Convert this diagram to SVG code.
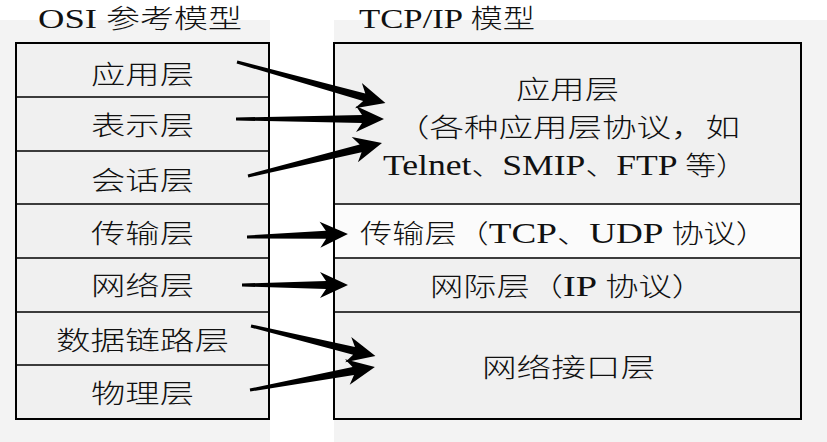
<svg xmlns="http://www.w3.org/2000/svg" width="827" height="442" viewBox="0 0 827 442">
<style>
.t{font-family:"Liberation Serif","Noto Sans CJK SC",serif;font-size:26px;fill:#111;font-weight:300}
.l{font-size:30px;font-weight:400}
.lt{font-size:28px;font-weight:400}
.box{fill:#f0f0f0;stroke:#000;stroke-width:2}
.div{stroke:#000;stroke-width:1.6}
.arr{fill:#000}
</style>
<rect x="0" y="0" width="827" height="442" fill="#ffffff"/>
<rect x="0" y="20" width="270" height="422" fill="#f3f3f3"/>
<rect x="334" y="20" width="493" height="422" fill="#f3f3f3"/>
<text class="t" x="38" y="28" textLength="204" lengthAdjust="spacingAndGlyphs"><tspan class="lt">OSI </tspan>参考模型</text>
<text class="t" x="359" y="28" textLength="176" lengthAdjust="spacingAndGlyphs"><tspan class="lt">TCP/IP </tspan>模型</text>
<g id="osi">
<rect class="box" x="16" y="43" width="253" height="376"/>
<line class="div" x1="16" y1="97" x2="269" y2="97"/>
<line class="div" x1="16" y1="151" x2="269" y2="151"/>
<line class="div" x1="16" y1="204" x2="269" y2="204"/>
<line class="div" x1="16" y1="258" x2="269" y2="258"/>
<line class="div" x1="16" y1="312" x2="269" y2="312"/>
<line class="div" x1="16" y1="365" x2="269" y2="365"/>
</g>
<g id="osi-app"><text class="t" x="91" y="83.5" textLength="103" lengthAdjust="spacingAndGlyphs">应用层</text></g>
<g id="osi-pres"><text class="t" x="91" y="134.5" textLength="103" lengthAdjust="spacingAndGlyphs">表示层</text></g>
<g id="osi-sess"><text class="t" x="91" y="190" textLength="103" lengthAdjust="spacingAndGlyphs">会话层</text></g>
<g id="osi-trans"><text class="t" x="91" y="242.5" textLength="103" lengthAdjust="spacingAndGlyphs">传输层</text></g>
<g id="osi-net"><text class="t" x="91" y="295" textLength="103" lengthAdjust="spacingAndGlyphs">网络层</text></g>
<g id="osi-link"><text class="t" x="56" y="349.5" textLength="173" lengthAdjust="spacingAndGlyphs">数据链路层</text></g>
<g id="osi-phy"><text class="t" x="91" y="402.5" textLength="103" lengthAdjust="spacingAndGlyphs">物理层</text></g>
<g id="tcpip">
<rect class="box" x="334" y="43" width="467" height="376" fill="#f2f2f2"/>
<rect x="335" y="205" width="465" height="52" fill="#fbfbfb"/>
<line class="div" x1="334" y1="204" x2="801" y2="204"/>
<line class="div" x1="334" y1="258" x2="801" y2="258"/>
<line class="div" x1="334" y1="312" x2="801" y2="312"/>
</g>
<g id="tcp-app">
<text class="t" x="516" y="98.5" textLength="103" lengthAdjust="spacingAndGlyphs">应用层</text>
<text class="t" x="395" y="137" textLength="345" lengthAdjust="spacingAndGlyphs">（各种应用层协议，如</text>
<text class="t" x="383" y="175" textLength="364" lengthAdjust="spacingAndGlyphs"><tspan class="l">Telnet</tspan>、<tspan class="l">SMIP</tspan>、<tspan class="l">FTP </tspan>等）</text>
</g>
<g id="tcp-trans"><text class="t" x="360" y="243" textLength="408" lengthAdjust="spacingAndGlyphs">传输层（<tspan class="l">TCP</tspan>、<tspan class="l">UDP </tspan>协议）</text></g>
<g id="tcp-inet"><text class="t" x="430" y="296" textLength="275" lengthAdjust="spacingAndGlyphs">网际层（<tspan class="l">IP </tspan>协议）</text></g>
<g id="tcp-netif"><text class="t" x="482" y="376.5" textLength="173" lengthAdjust="spacingAndGlyphs">网络接口层</text></g>
<g id="connectors">
<path class="arr" transform="translate(237,62) rotate(15.48)" d="M0,-1.5 L132,-4 L126,-13 L154,0 L126,13 L132,4 L0,1.5 Z"/>
<path class="arr" transform="translate(236,119)" d="M0,-1.5 L126,-4 L120,-13 L148,0 L120,13 L126,4 L0,1.5 Z"/>
<path class="arr" transform="translate(248,176) rotate(-13.83)" d="M0,-1.5 L116,-4 L110,-13 L138,0 L110,13 L116,4 L0,1.5 Z"/>
<path class="arr" transform="translate(247,237) rotate(-1.7)" d="M0,-1.5 L79,-4 L73,-13 L101,0 L73,13 L79,4 L0,1.5 Z"/>
<path class="arr" transform="translate(242,285)" d="M0,-1.5 L84,-4 L78,-13 L106,0 L78,13 L84,4 L0,1.5 Z"/>
<path class="arr" transform="translate(251,326) rotate(13.6)" d="M0,-1.5 L106,-4 L100,-13 L128,0 L100,13 L106,4 L0,1.5 Z"/>
<path class="arr" transform="translate(250,390) rotate(-10.43)" d="M0,-1.5 L105,-4 L99,-13 L127,0 L99,13 L105,4 L0,1.5 Z"/>
</g>
</svg>
